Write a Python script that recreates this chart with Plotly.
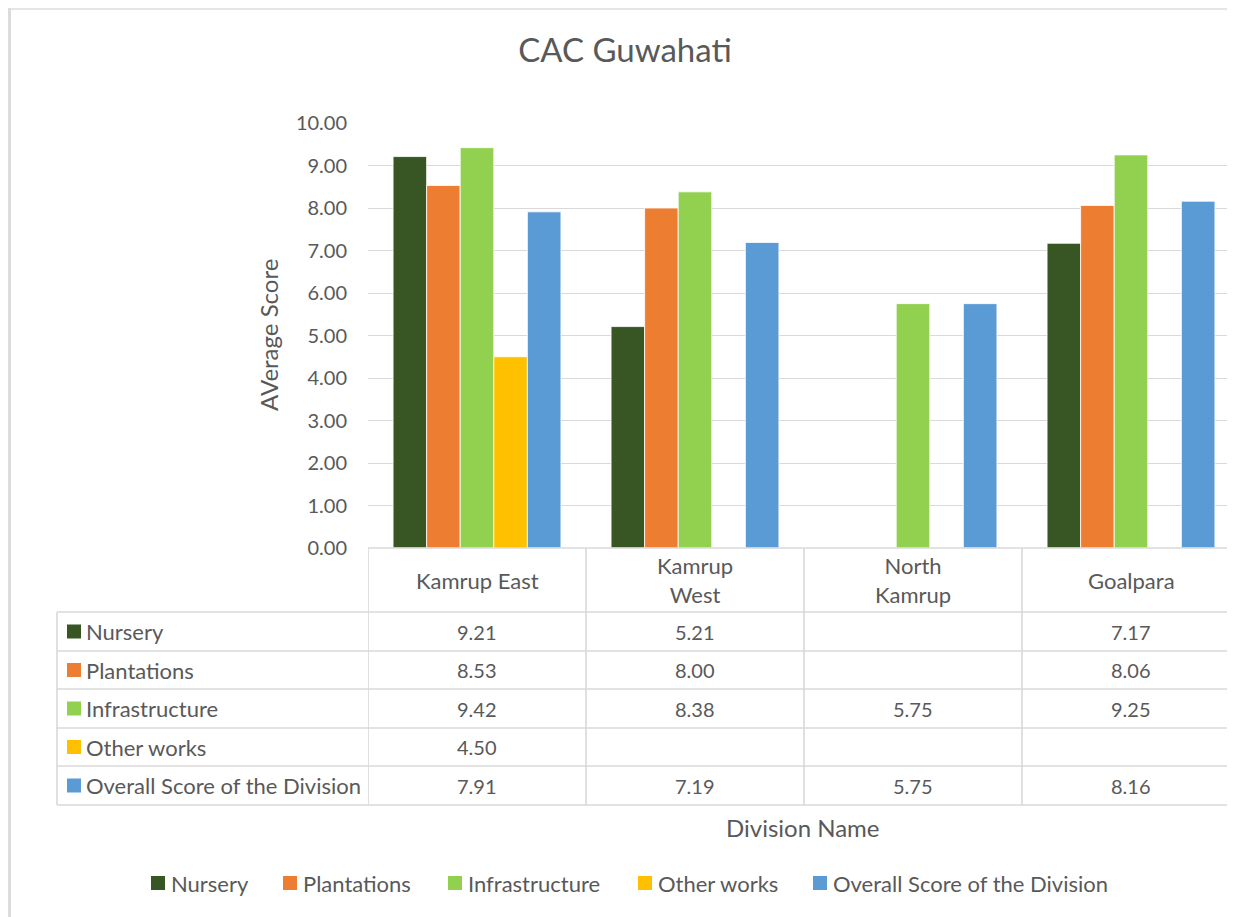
import plotly.graph_objects as go

# ---- data ----
divisions = ["Kamrup East", "Kamrup West", "North Kamrup", "Goalpara"]
division_labels = ["Kamrup East", "Kamrup<br>West", "North<br>Kamrup", "Goalpara"]
series_names = ["Nursery", "Plantations", "Infrastructure", "Other works",
                "Overall Score of the Division"]
nursery = [9.21, 5.21, None, 7.17]
plantations = [8.53, 8.00, None, 8.06]
infrastructure = [9.42, 8.38, 5.75, 9.25]
other_works = [4.50, None, None, None]
overall = [7.91, 7.19, 5.75, 8.16]
series_values = [nursery, plantations, infrastructure, other_works, overall]
series_colors = ["#375623", "#ED7D31", "#92D050", "#FFC000", "#5B9BD5"]
y_ticks = [0, 1, 2, 3, 4, 5, 6, 7, 8, 9, 10]

# page offset (body margin) and figure size
OFF = 8
W, H = 1235 - OFF, 917 - OFF
FONT = "Lato"
TXT = "#595959"
GRID = "#d9d9d9"


def sx(x):
    """screen x -> paper fraction"""
    return (x - OFF) / W


def sy(y):
    """screen y -> paper fraction"""
    return 1 - (y - OFF) / H


fig = go.Figure()
for name, vals, col in zip(series_names, series_values, series_colors):
    fig.add_trace(go.Bar(
        x=divisions, y=vals, name=name, showlegend=False,
        marker=dict(color=col, line=dict(color="white", width=0.8)),
    ))

# plot area geometry (screen px)
x_left, x_right_full = 368, 1240
cat_w = (x_right_full - x_left) / len(divisions)
x_range_end = len(divisions) - 0.5 - (x_right_full - 1235) / cat_w
y_top, y_bot = 123, 548

shapes = []
annotations = []

# chart frame
shapes.append(dict(type="line", xref="paper", yref="paper", x0=sx(9.5), x1=sx(9.5),
                   y0=1, y1=0, line=dict(color="#dcdcdc", width=3)))
shapes.append(dict(type="line", xref="paper", yref="paper", x0=sx(8), x1=1,
                   y0=sy(9), y1=sy(9), line=dict(color="#dcdcdc", width=1.5)))

# data table
row_edges = [612, 651, 689, 728, 766, 805]
tbl_left = 57
line_style = dict(color=GRID, width=1.6)
shapes.append(dict(type="line", xref="x", yref="paper", x0=-0.5, x1=len(divisions) - 0.5,
                   y0=sy(y_bot), y1=sy(y_bot), line=line_style))
for ry in row_edges:
    shapes.append(dict(type="line", xref="paper", yref="paper", x0=sx(tbl_left), x1=1,
                       y0=sy(ry), y1=sy(ry), line=line_style))
for i in range(len(divisions) + 1):
    shapes.append(dict(type="line", xref="x", yref="paper", x0=i - 0.5, x1=i - 0.5,
                       y0=sy(y_bot), y1=sy(row_edges[-1]), line=line_style))
shapes.append(dict(type="line", xref="paper", yref="paper", x0=sx(tbl_left), x1=sx(tbl_left),
                   y0=sy(row_edges[0]), y1=sy(row_edges[-1]), line=line_style))

# header labels
for i, lab in enumerate(division_labels):
    annotations.append(dict(xref="x", yref="paper", x=i, y=sy((y_bot + row_edges[0]) / 2),
                            text=lab, showarrow=False, xanchor="center", yanchor="middle",
                            font=dict(family=FONT, size=22, color=TXT)))

# rows: legend key + name + values
for r, (name, vals, col) in enumerate(zip(series_names, series_values, series_colors)):
    yc = (row_edges[r] + row_edges[r + 1]) / 2
    shapes.append(dict(type="rect", xref="paper", yref="paper", x0=sx(67), x1=sx(81),
                       y0=sy(yc - 7), y1=sy(yc + 7), fillcolor=col, line=dict(width=0)))
    annotations.append(dict(xref="paper", yref="paper", x=sx(84), y=sy(yc), text=name,
                            showarrow=False, xanchor="left", yanchor="middle",
                            font=dict(family=FONT, size=22, color=TXT)))
    for i, v in enumerate(vals):
        if v is not None:
            annotations.append(dict(xref="x", yref="paper", x=i, y=sy(yc), text=f"{v:.2f}",
                                    showarrow=False, xanchor="center", yanchor="middle",
                                    font=dict(family=FONT, size=20, color=TXT)))

# axis titles
annotations.append(dict(xref="paper", yref="paper", x=sx(268), y=sy(335), text="AVerage Score",
                        textangle=-90, showarrow=False, xanchor="center", yanchor="middle",
                        font=dict(family=FONT, size=24, color=TXT)))
annotations.append(dict(xref="paper", yref="paper", x=sx(803), y=sy(827), text="Division Name",
                        showarrow=False, xanchor="center", yanchor="middle",
                        font=dict(family=FONT, size=24, color=TXT)))

# bottom legend (keys + names)
legend_key_x = [151, 283, 448, 638, 813]
legend_y = 883
for name, col, kx in zip(series_names, series_colors, legend_key_x):
    shapes.append(dict(type="rect", xref="paper", yref="paper", x0=sx(kx), x1=sx(kx + 14),
                       y0=sy(legend_y - 7), y1=sy(legend_y + 7), fillcolor=col, line=dict(width=0)))
    annotations.append(dict(xref="paper", yref="paper", x=sx(kx + 18), y=sy(legend_y), text=name,
                            showarrow=False, xanchor="left", yanchor="middle",
                            font=dict(family=FONT, size=22, color=TXT)))

fig.update_layout(
    width=W, height=H, autosize=False,
    margin=dict(l=0, r=0, t=0, b=0, pad=0, autoexpand=False),
    paper_bgcolor="white", plot_bgcolor="white",
    font=dict(family=FONT, size=20, color=TXT),
    title=dict(text="CAC Guwahati", x=sx(625), xanchor="center", y=sy(50), yanchor="middle",
               font=dict(family=FONT, size=33, color=TXT)),
    barmode="group", bargap=0.23, bargroupgap=0,
    showlegend=False,
    xaxis=dict(domain=[sx(x_left), 1], range=[-0.5, x_range_end], showticklabels=False,
               showgrid=False, zeroline=False, showline=False, ticks=""),
    yaxis=dict(domain=[sy(y_bot), sy(y_top)], range=[0, 10], tickvals=y_ticks,
               tickformat=".2f", showgrid=True, gridcolor=GRID, gridwidth=1.3,
               zeroline=False, showline=False, ticks="", ticklabelstandoff=20,
               tickfont=dict(family=FONT, size=20, color=TXT)),
    shapes=shapes, annotations=annotations,
)

fig.write_html("out.html")
